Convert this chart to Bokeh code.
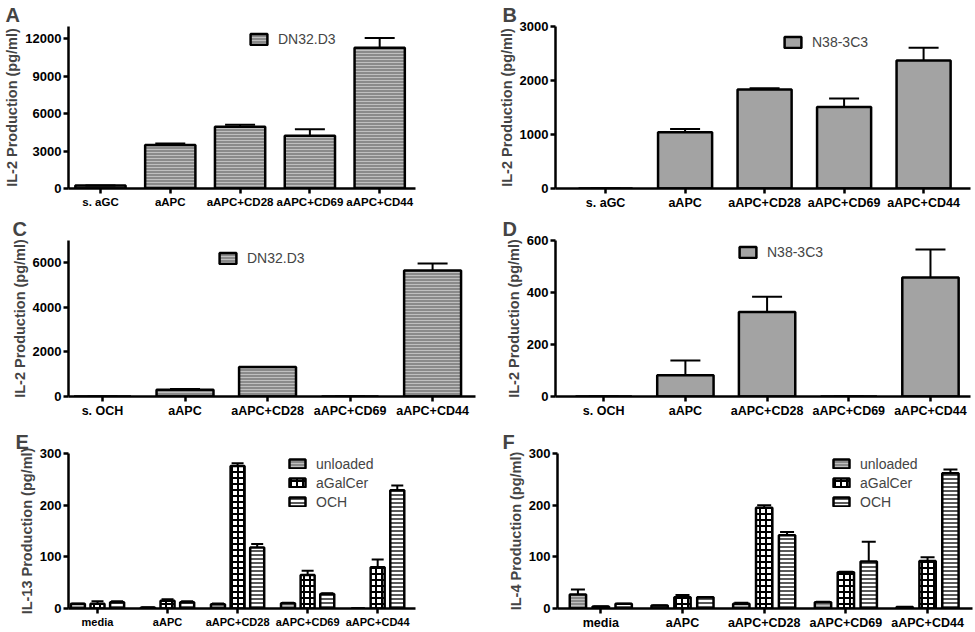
import numpy as np
from bokeh.plotting import figure
from bokeh.models import (ColumnDataSource, Whisker, TeeHead, FixedTicker, Legend,
                          LegendItem, Range1d)
from bokeh.layouts import column, row
from bokeh.embed import file_html
from bokeh.resources import INLINE

# ---------------- data ----------------
cats_aGC = ["s. aGC", "aAPC", "aAPC+CD28", "aAPC+CD69", "aAPC+CD44"]
cats_OCH = ["s. OCH", "aAPC", "aAPC+CD28", "aAPC+CD69", "aAPC+CD44"]
cats_media = ["media", "aAPC", "aAPC+CD28", "aAPC+CD69", "aAPC+CD44"]

a_mean = [250, 3500, 4950, 4230, 11300]
a_err = [0, 120, 170, 530, 780]
b_mean = [0, 1040, 1835, 1510, 2370]
b_err = [0, 63, 20, 156, 235]
c_mean = [0, 300, 1320, 0, 5650]
c_err = [0, 40, 0, 0, 320]
d_mean = [0, 82, 325, 0, 458]
d_err = [0, 56, 59, 0, 107]

series_names = ["unloaded", "aGalCer", "OCH"]
e_unloaded = [9, 2, 8, 10, 0]
e_unloaded_err = [0, 0, 1.5, 1, 0]
e_agalcer = [9, 15, 276, 65, 80]
e_agalcer_err = [5, 3, 5, 8, 15]
e_och = [12, 12, 118, 28, 229]
e_och_err = [2, 2, 7, 1.5, 9]

f_unloaded = [27, 6, 9, 12, 3]
f_unloaded_err = [10, 0, 2, 1, 0]
f_agalcer = [4, 22, 195, 70, 92]
f_agalcer_err = [0, 4, 5, 1, 7]
f_och = [9, 22, 142, 91, 262]
f_och_err = [0, 0, 6, 38, 7]

a_ticks = [0, 3000, 6000, 9000, 12000]
b_ticks = [0, 1000, 2000, 3000]
c_ticks = [0, 2000, 4000, 6000]
d_ticks = [0, 200, 400, 600]
ef_ticks = [0, 100, 200, 300]

# ---------------- styles ----------------
FONT = "Liberation Sans"
STIPPLE = dict(fill_color="#8a8a8a", hatch_pattern="horizontal_line", hatch_color="white",
               hatch_scale=3, hatch_weight=1, hatch_alpha=0.45)
GREY = dict(fill_color="#a3a3a3")
CHECK = dict(fill_color="white", hatch_pattern="cross", hatch_color="black",
             hatch_scale=6, hatch_weight=2)
LINES = dict(fill_color="white", hatch_pattern="horizontal_line", hatch_color="black",
             hatch_scale=4, hatch_weight=1.3)


def make_fig(width, height, xr, yr, yticks, ylabel, cats, borders, letter, loff, xfs):
    l, r, t, b = borders
    p = figure(width=width, height=height, x_range=Range1d(*xr), y_range=Range1d(*yr),
               output_backend="svg", toolbar_location=None,
               min_border_left=l, min_border_right=r, min_border_top=t, min_border_bottom=b)
    p.outline_line_color = None
    p.grid.visible = False
    p.title.text = letter
    p.title.text_font = FONT
    p.title.text_font_style = "bold"
    p.title.text_font_size = "20px"
    p.title.align = "left"
    p.title.offset = loff
    p.title.standoff = 2
    for ax in (p.xaxis[0], p.yaxis[0]):
        ax.axis_line_width = 2.5
        ax.axis_line_color = "black"
        ax.major_tick_line_width = 2.5
        ax.major_tick_line_color = "black"
        ax.major_tick_out = 5
        ax.major_tick_in = 0
        ax.minor_tick_out = 0
        ax.minor_tick_in = 0
        ax.major_label_text_font = FONT
        ax.major_label_text_font_style = "bold"
        ax.major_label_text_color = "black"
        ax.major_label_standoff = 2
    xa = p.xaxis[0]
    xa.ticker = FixedTicker(ticks=list(range(len(cats))))
    xa.major_label_overrides = {i: c for i, c in enumerate(cats)}
    xa.major_label_text_font_size = xfs
    ya = p.yaxis[0]
    ya.ticker = FixedTicker(ticks=yticks)
    ya.major_label_text_font_size = "13px"
    ya.axis_label = ylabel
    ya.axis_label_text_font = FONT
    ya.axis_label_text_font_style = "bold"
    ya.axis_label_text_font_size = "14.5px"
    ya.axis_label_standoff = 2
    return p


def bars(p, xs, means, errs, width, style, head):
    src = ColumnDataSource(dict(x=list(xs), top=means,
                                upper=[m + e for m, e in zip(means, errs)]))
    r = p.vbar(x="x", top="top", bottom=0, width=width, source=src,
               line_color="black", line_width=2.5, **style)
    w = Whisker(source=src, base="x", lower="top", upper="upper",
                upper_head=TeeHead(size=head, line_width=2, line_color="black"),
                lower_head=None, line_width=2, line_color="black", level="glyph")
    p.add_layout(w)
    return r


def legend(p, items, loc, gw, gh, spacing):
    lg = Legend(items=[LegendItem(label=n, renderers=[r]) for n, r in items],
                location=loc, label_text_font=FONT, label_text_font_size="14px",
                glyph_width=gw, glyph_height=gh, label_height=17, spacing=spacing,
                padding=0, margin=0, border_line_color=None, background_fill_alpha=0,
                label_standoff=9)
    p.add_layout(lg)


idx = np.arange(5)

# A
pa = make_fig(480, 213, (-0.458, 4.513), (0, 13000), a_ticks, "IL-2 Production (pg/ml)",
              cats_aGC, (68, 65, 25, 25), "A", -63, "11.5px")
ra = bars(pa, idx, a_mean, a_err, 0.72, STIPPLE, 30)
legend(pa, [("DN32.D3", ra)], (180, 141), 21, 14, 5)

# B
pb = make_fig(495, 213, (-0.63, 4.59), (0, 3000), b_ticks, "IL-2 Production (pg/ml)",
              cats_aGC, (75, 5, 25, 25), "B", -53, "12.5px")
rb = bars(pb, idx, b_mean, b_err, 0.68, GREY, 30)
legend(pb, [("N38-3C3", rb)], (227, 138), 21, 14, 5)

# C
pc = make_fig(480, 207, (-0.412, 4.52), (0, 7000), c_ticks, "IL-2 Production (pg/ml)",
              cats_OCH, (68, 5, 27, 20), "C", -56, "12.5px")
rc = bars(pc, idx, c_mean, c_err, 0.69, STIPPLE, 30)
legend(pc, [("DN32.D3", rc)], (149, 130), 21, 14, 5)

# D
pd_ = make_fig(495, 207, (-0.59, 4.49), (0, 600), d_ticks, "IL-2 Production (pg/ml)",
               cats_OCH, (75, 5, 27, 20), "D", -53, "12.5px")
rd = bars(pd_, idx, d_mean, d_err, 0.69, GREY, 30)
legend(pd_, [("N38-3C3", rd)], (182, 136), 21, 14, 5)

# E
pe = make_fig(480, 212, (-0.414, 4.54), (0, 300), ef_ticks, "IL-13 Production (pg/ml)",
              cats_media, (68, 65, 33, 20), "E", -53, "11px")
re1 = bars(pe, idx - 0.28, e_unloaded, e_unloaded_err, 0.2, STIPPLE, 12)
re2 = bars(pe, idx, e_agalcer, e_agalcer_err, 0.2, CHECK, 12)
re3 = bars(pe, idx + 0.28, e_och, e_och_err, 0.2, LINES, 12)
legend(pe, list(zip(series_names, [re1, re2, re3])), (219, 98), 20, 11, 2)

# F
pf = make_fig(495, 212, (-0.53, 4.55), (0, 300), ef_ticks, "IL-4 Production (pg/ml)",
              cats_media, (77, 3, 33, 20), "F", -55, "12.5px")
rf1 = bars(pf, idx - 0.28, f_unloaded, f_unloaded_err, 0.2, STIPPLE, 14)
rf2 = bars(pf, idx, f_agalcer, f_agalcer_err, 0.2, CHECK, 14)
rf3 = bars(pf, idx + 0.28, f_och, f_och_err, 0.2, LINES, 14)
legend(pf, list(zip(series_names, [rf1, rf2, rf3])), (274, 98), 20, 11, 2)

layout = column(row(pa, pb), row(pc, pd_), row(pe, pf))

open("out.html", "w").write(file_html(layout, INLINE))
